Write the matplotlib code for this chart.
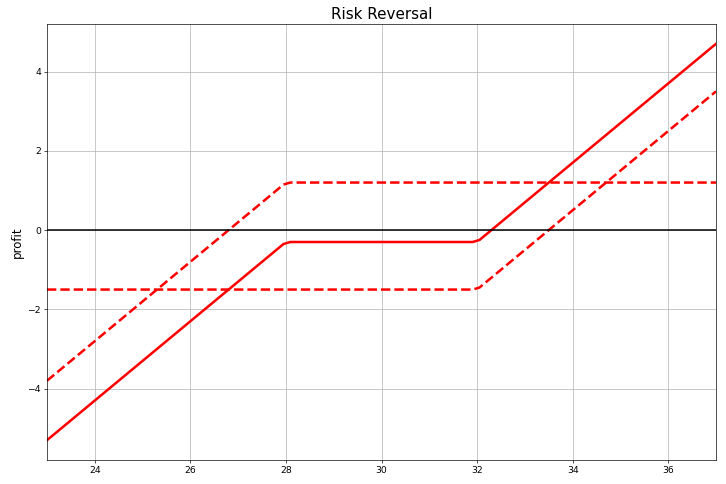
import matplotlib
matplotlib.use("Agg")
import matplotlib.pyplot as plt
import numpy as np

# price grid points (sampled) and payoff values
price = [23.0, 27.949, 28.091, 31.909, 32.051, 37.0]
short_put = [-3.8, 1.149, 1.2, 1.2, 1.2, 1.2]
long_call = [-1.5, -1.5, -1.5, -1.5, -1.449, 3.5]
risk_reversal = [-5.3, -0.351, -0.3, -0.3, -0.249, 4.7]

fig = plt.figure(figsize=(12, 8), dpi=60.5)
ax = fig.add_axes([47/726, 24/484, 669/726, 436/484])
ax.plot(price, short_put, 'r--', linewidth=3)
ax.plot(price, long_call, 'r--', linewidth=3)
ax.plot(price, risk_reversal, 'r-', linewidth=3)
ax.axhline(0, color='k', linewidth=1.8)
ax.set_xlim(23, 37)
ax.set_ylim(-5.8, 5.2)
ax.grid(True)
ax.set_title('Risk Reversal', fontsize=18)
ax.set_ylabel('profit', fontsize=14)
ax.tick_params(labelsize=11)
fig.savefig('out.png', dpi=60.5)
